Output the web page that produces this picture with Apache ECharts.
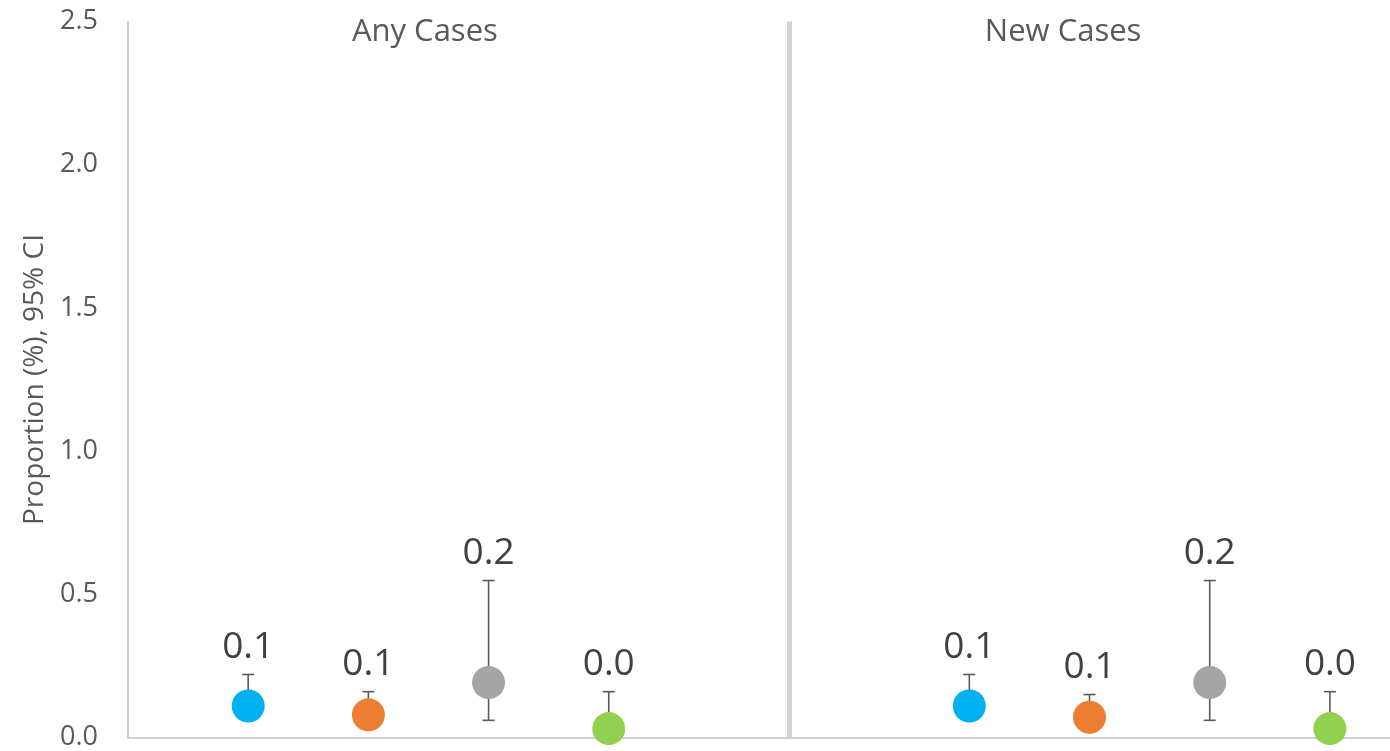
<!DOCTYPE html>
<html>
<head>
<meta charset="utf-8">
<script src="https://cdn.jsdelivr.net/npm/echarts@6/dist/echarts.min.js"></script>
<style>
  html, body { margin: 0; padding: 0; background: #fff; }
  #chart { width: 1390px; height: 751px; }
</style>
</head>
<body>
<div id="chart"></div>
<script>
// Panels and groups
const panelNames = ['Any Cases', 'New Cases'];
const groupNames = ['Group 1', 'Group 2', 'Group 3', 'Group 4'];
const groupColors = ['#00B0F0', '#ED7D31', '#A5A5A5', '#92D050'];

// Proportion (%) and 95% CI per group
const anyPoint = [0.110, 0.079, 0.192, 0.031];
const anyLower = [0.060, 0.030, 0.060, 0.005];
const anyUpper = [0.220, 0.160, 0.548, 0.160];

const newPoint = [0.110, 0.071, 0.192, 0.031];
const newLower = [0.060, 0.025, 0.060, 0.005];
const newUpper = [0.220, 0.150, 0.548, 0.160];

// y axis ticks
const yTicks = [0.0, 0.5, 1.0, 1.5, 2.0, 2.5];

// layout along the hidden x axis: panel slots and divider
const panelSlots = [[1, 2, 3, 4], [7, 8, 9, 10]];
const dividerX = 5.5;
const titleX = [2.47, 7.78];

const panels = [
  { point: anyPoint, lower: anyLower, upper: anyUpper },
  { point: newPoint, lower: newLower, upper: newUpper }
];

const errData = [];
panels.forEach((p, pi) => {
  p.point.forEach((v, gi) => {
    errData.push([panelSlots[pi][gi], v, p.lower[gi], p.upper[gi]]);
  });
});

const dotSeries = groupNames.map((name, gi) => ({
  name: name,
  type: 'scatter',
  symbolSize: 33,
  z: 5,
  itemStyle: { color: groupColors[gi], opacity: 1 },
  data: panels.map((p, pi) => [panelSlots[pi][gi], p.point[gi]])
}));

const chart = echarts.init(document.getElementById('chart'), null, { renderer: 'canvas' });

const option = {
  animation: false,
  backgroundColor: '#ffffff',
  grid: { left: 128, right: -4, top: 21.5, bottom: 12, containLabel: false },
  xAxis: {
    type: 'value',
    min: 0,
    max: 10.5,
    axisLine: { show: true, onZero: false, lineStyle: { color: '#D0D0D0', width: 2 } },
    axisTick: { show: false },
    axisLabel: { show: false },
    splitLine: { show: false }
  },
  yAxis: {
    type: 'value',
    min: yTicks[0],
    max: yTicks[yTicks.length - 1],
    interval: 0.5,
    name: 'Proportion (%), 95% CI',
    nameLocation: 'middle',
    nameGap: 79,
    nameTextStyle: { fontFamily: 'Open Sans', fontSize: 28, color: '#595959' },
    axisLine: { show: true, lineStyle: { color: '#D0D0D0', width: 2 } },
    axisTick: { show: false },
    splitLine: { show: false },
    axisLabel: {
      margin: 30,
      fontFamily: 'Open Sans',
      fontSize: 27,
      color: '#595959',
      formatter: v => v.toFixed(1)
    }
  },
  series: [
    {
      type: 'custom',
      name: 'CI',
      z: 2,
      data: errData,
      encode: { x: 0, y: [1, 2, 3] },
      renderItem: function (params, api) {
        const x = api.value(0);
        const lo = api.coord([x, api.value(2)]);
        const hi = api.coord([x, api.value(3)]);
        const half = 6;
        const stroke = { stroke: '#595959', lineWidth: 1.6 };
        return {
          type: 'group',
          children: [
            { type: 'line', shape: { x1: hi[0], y1: hi[1], x2: lo[0], y2: lo[1] }, style: stroke },
            { type: 'line', shape: { x1: hi[0] - half, y1: hi[1], x2: hi[0] + half, y2: hi[1] }, style: stroke },
            { type: 'line', shape: { x1: lo[0] - half, y1: lo[1], x2: lo[0] + half, y2: lo[1] }, style: stroke },
            {
              type: 'text',
              x: hi[0],
              y: hi[1] - 27,
              style: {
                text: api.value(1).toFixed(1),
                fontFamily: 'Open Sans',
                fontSize: 37,
                fill: '#404040',
                align: 'center',
                verticalAlign: 'middle'
              }
            }
          ]
        };
      }
    },
    {
      type: 'line',
      name: 'divider',
      data: [],
      z: 1,
      silent: true,
      markLine: {
        symbol: 'none',
        silent: true,
        label: { show: false },
        lineStyle: { color: '#D4D4D4', width: 5, type: 'solid' },
        data: [[{ coord: [dividerX, 2.5] }, { coord: [dividerX, 0] }]]
      }
    },
    ...dotSeries
  ]
};

chart.setOption(option);

// Panel titles placed over the plot
const titleGraphics = panelNames.map((t, i) => {
  const p = chart.convertToPixel({ gridIndex: 0 }, [titleX[i], 2.5]);
  return {
    type: 'text',
    x: p[0],
    y: 32,
    style: {
      text: t,
      fontFamily: 'Open Sans',
      fontSize: 31,
      fill: '#595959',
      align: 'center',
      verticalAlign: 'middle'
    }
  };
});
chart.setOption({ graphic: titleGraphics });
</script>
</body>
</html>
